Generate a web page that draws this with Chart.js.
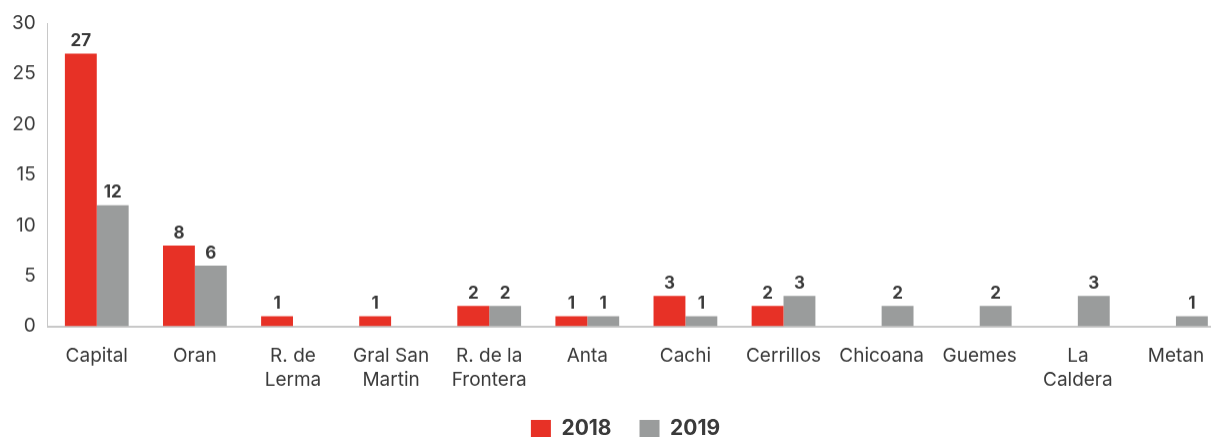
<!DOCTYPE html>
<html><head><meta charset="utf-8">
<script src="https://cdn.jsdelivr.net/npm/chart.js@4"></script>
<style>
html,body{margin:0;padding:0;background:#fff;overflow:hidden;}
#wrap{width:1250px;height:448.5px;position:relative;}
</style></head>
<body><div id="wrap"><canvas id="c"></canvas></div>
<script>
const categories = ['Capital','Oran',['R. de','Lerma'],['Gral San','Martin'],['R. de la','Frontera'],'Anta','Cachi','Cerrillos','Chicoana','Guemes',['La','Caldera'],'Metan'];
const values2018 = [27,8,1,1,2,1,3,2,null,null,null,null];
const values2019 = [12,6,null,null,2,1,1,3,2,2,3,1];
const yTicks = [0,5,10,15,20,25,30];
const seriesNames = ['2018','2019'];

const FONT = 'Inter, "Open Sans", sans-serif';
const labelPlugin = {
  id:'vals',
  afterLayout(chart){
    chart.legend.left += 13;
    chart.legend.right += 13;
  },
  afterDatasetsDraw(chart){
    const ctx = chart.ctx;
    ctx.save();
    ctx.font = 'bold 17px ' + FONT;
    ctx.fillStyle = '#3a3a3a';
    ctx.textAlign = 'center';
    ctx.textBaseline = 'bottom';
    chart.data.datasets.forEach((ds,i)=>{
      chart.getDatasetMeta(i).data.forEach((bar,j)=>{
        const v = ds.data[j];
        if(v==null) return;
        ctx.fillText(String(v), bar.x, bar.y - 4);
      });
    });
    ctx.restore();
  }
};

new Chart(document.getElementById('c'), {
  type:'bar',
  data:{
    labels:categories,
    datasets:[
      {label:seriesNames[0], data:values2018, backgroundColor:'#e73126'},
      {label:seriesNames[1], data:values2019, backgroundColor:'#9a9c9c'}
    ]
  },
  options:{
    responsive:true, maintainAspectRatio:false, animation:false,
    layout:{padding:{top:11,right:25,left:0,bottom:0}},
    datasets:{bar:{barPercentage:1, categoryPercentage:0.65}},
    plugins:{
      legend:{position:'bottom', labels:{font:{family:FONT,size:21,weight:'bold'}, color:'#3a3a3a', boxWidth:20, boxHeight:18, padding:28}},
      tooltip:{enabled:false}
    },
    scales:{
      x:{
        grid:{display:false, drawTicks:false},
        border:{display:true,color:'#c8c8c8',width:2},
        ticks:{font:{family:FONT,size:19,lineHeight:1.3}, color:'#3a3a3a', padding:17, maxRotation:0, autoSkip:false},
        afterFit(s){ s.height = 64; }
      },
      y:{
        min:0,max:30,
        afterBuildTicks(s){ s.ticks = yTicks.map(v=>({value:v})); },
        grid:{display:false, drawTicks:false},
        border:{display:true,color:'#c8c8c8',width:1},
        ticks:{font:{family:FONT,size:19}, color:'#3a3a3a', padding:12}
      }
    }
  },
  plugins:[labelPlugin]
});
</script></body></html>
